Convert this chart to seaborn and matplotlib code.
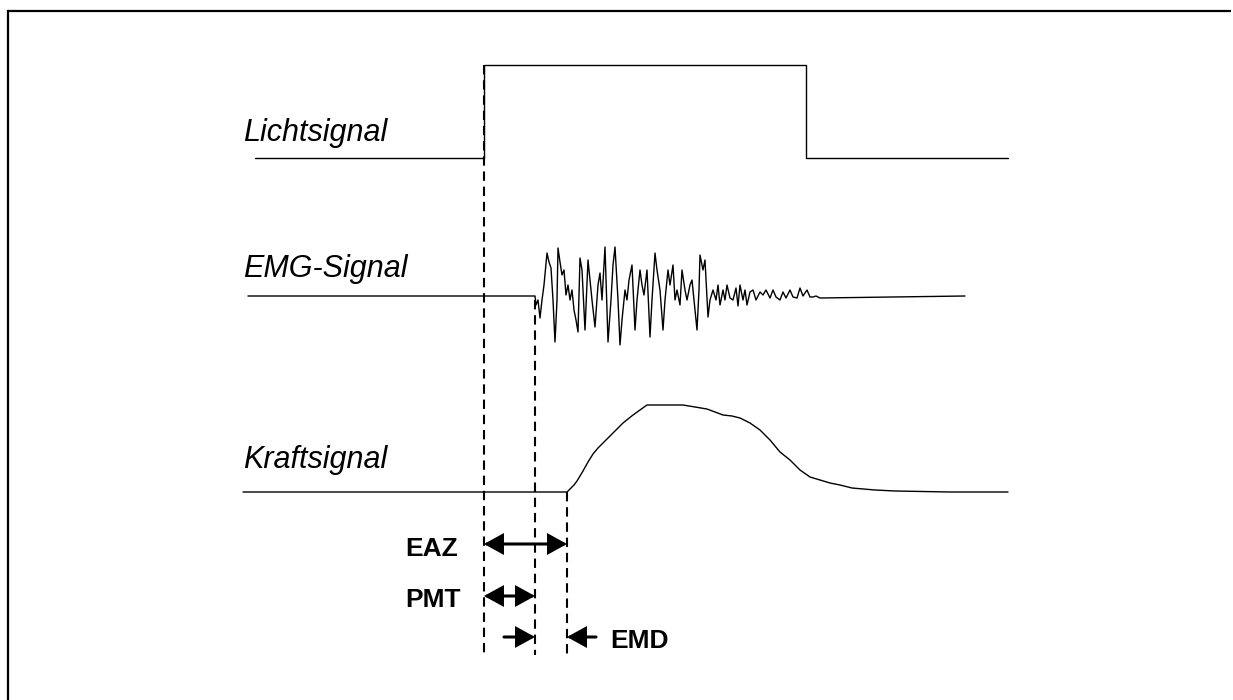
import matplotlib
matplotlib.use("Agg")
import matplotlib.pyplot as plt
from matplotlib.patches import FancyArrowPatch
import seaborn as sns
import pandas as pd

# Time axis in drawing units (left to right), signal amplitude in drawing units (up = positive)
licht_t = [255, 484, 484, 806, 806, 1008]
licht_v = [0, 0, 93, 93, 0, 0]

emg_t = [248, 535, 536, 538, 540, 542, 544, 547, 549, 551, 553, 555, 557, 558, 560, 562,
         564, 566, 568, 570, 572, 574, 576, 578, 580, 582, 585, 588, 590, 592, 595, 598,
         600, 602, 605, 608, 611, 613, 615, 618, 620, 622, 625, 627, 629, 632, 635, 637,
         640, 642, 644, 647, 650, 652, 655, 657, 660, 663, 665, 668, 670, 673, 675, 677,
         680, 682, 685, 687, 690, 692, 695, 697, 699, 700, 703, 705, 708, 710, 713, 716,
         718, 720, 723, 725, 727, 730, 733, 736, 738, 740, 743, 745, 747, 750, 753, 756,
         760, 763, 766, 770, 773, 776, 780, 783, 786, 790, 793, 797, 800, 803, 807, 810,
         813, 816, 820, 965]
emg_v = [0, 0, -9, -4, -22, -4, 11, 43, 34, 28, -4, -46, -4, 48, 34, 21,
         26, 1, 11, -4, 6, -14, -24, -36, 38, 26, -34, 36, 16, -4, -31, 11,
         23, -4, 49, -46, -4, 31, 49, -4, -49, -24, 6, -4, 16, 31, -34, -4,
         26, 11, 1, 26, -41, -4, 43, 26, 6, -34, -4, 26, 11, 31, -4, 6,
         -9, 26, 6, -4, 11, 16, -14, -34, 6, 41, 26, 36, -21, -4, 6, -4,
         11, -9, 6, -4, 11, -2, -4, 8, -10, 11, -4, 6, -9, 4, 6, -4,
         4, 1, 6, -2, 6, -1, -4, 4, -2, 6, -1, -2, 8, 0, 6, -1,
         -1, 0, -2, 0]

kraft_t = [243, 567, 570, 574, 577, 580, 583, 588, 593, 598, 603, 608, 613, 618, 623,
           628, 633, 640, 647, 665, 683, 695, 707, 715, 723, 732, 740, 750, 760, 770,
           780, 790, 800, 810, 820, 830, 840, 852, 875, 895, 950, 1008]
kraft_v = [0, 0, 3, 7, 11, 16, 21, 30, 38, 44, 49, 54, 59, 64, 69,
           73, 77, 82, 87, 87, 87, 85, 83, 80, 77, 76, 74, 69, 62, 52,
           40, 32, 22, 15, 12, 9, 7, 4, 2, 1, 0, 0]

trace_names = ["Lichtsignal", "EMG-Signal", "Kraftsignal"]
baselines = [158, 296, 492]
label_baselines = [141, 277, 468]

# Reaction-time markers
t_stimulus, t_emg_onset, t_force_onset = 484, 535, 567
interval_names = ["EAZ", "PMT", "EMD"]

sns.set_theme(style="white")
plt.rcParams["font.family"] = ["Liberation Sans", "DejaVu Sans"]

fig = plt.figure(figsize=(12.33, 7.0), dpi=100, facecolor="white",
                 edgecolor="white", linewidth=0)
ax = fig.add_axes([0, 0, 1, 1])

traces = [(licht_t, licht_v), (emg_t, emg_v), (kraft_t, kraft_v)]
for (t, v), base, lab_y, name in zip(traces, baselines, label_baselines, trace_names):
    df = pd.DataFrame({"t": t, "y": [base - a for a in v]})
    sns.lineplot(data=df, x="t", y="y", sort=False, estimator=None,
                 color="black", lw=1.0, ax=ax)
    ax.text(243, lab_y, name, fontsize=22, fontstyle="italic",
            ha="left", va="baseline", color="black")

# Dashed onset markers
dash_bottom = 655
for x0, top in [(t_stimulus, baselines[0] - licht_v[2]),
                (t_emg_onset, 300),
                (t_force_onset, baselines[2])]:
    ax.plot([x0, x0], [top, dash_bottom], color="black", lw=1.5,
            ls=(0, (4.5, 2.8)))


def arrow(x0, x1, y, style):
    ax.add_patch(FancyArrowPatch((x0, y), (x1, y), arrowstyle=style,
                                 mutation_scale=11, color="black", lw=2.2,
                                 shrinkA=0, shrinkB=0, joinstyle="miter"))


head = "head_length=1.0,head_width=0.55"
arrow(t_stimulus, t_force_onset, 544, f"<|-|>,{head}")
arrow(t_stimulus, t_emg_onset, 596, f"<|-|>,{head}")
arrow(504, t_emg_onset, 637, f"-|>,{head}")
arrow(596, t_force_onset, 637, f"-|>,{head}")

for (x, y), name in zip([(405, 556), (405, 607), (610, 648)], interval_names):
    ax.text(x, y, name, fontsize=19, fontweight="bold", va="baseline", color="black")

# Outer frame (left and top edges; right and bottom run past the canvas)
ax.plot([8, 8], [700, 11], color="black", lw=1.6, solid_capstyle="projecting")
ax.plot([8, 1231], [11, 11], color="black", lw=1.6, solid_capstyle="butt")

ax.set_xlim(0, 1233)
ax.set_ylim(700, 0)
ax.set_xlabel("")
ax.set_ylabel("")
ax.set_axis_off()

fig.savefig("out.png", dpi=100, facecolor="white", edgecolor="white")
